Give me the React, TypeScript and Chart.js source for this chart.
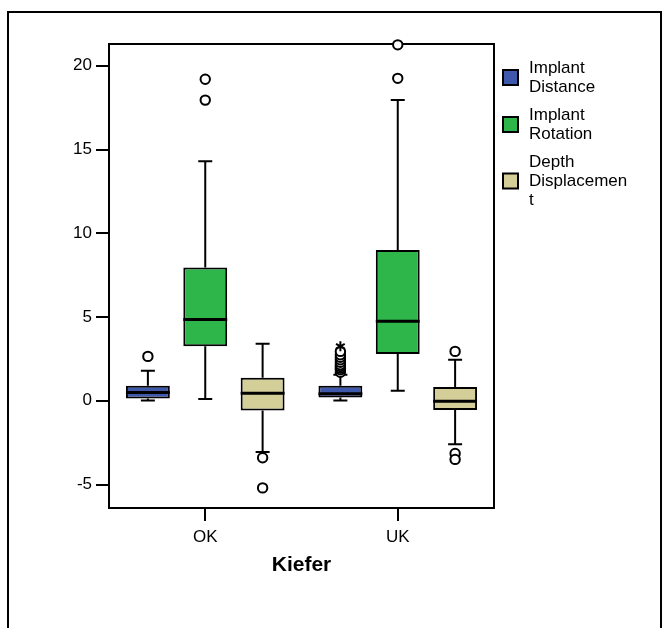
import React, { useEffect, useRef } from 'react';
import { Chart, registerables } from 'chart.js';

Chart.register(...registerables);

// ---------- data ----------
const categories = ['OK', 'UK'];
const seriesNames = ['Implant Distance', 'Implant Rotation', 'Depth Displacement'];
const legendLines = [['Implant', 'Distance'], ['Implant', 'Rotation'], ['Depth', 'Displacemen', 't']];
const seriesColors = ['#3E58AC', '#2EB64A', '#D4CF99'];
const yTickValues = [-5, 0, 5, 10, 15, 20];
const yMin = -6.4;
const yMax = 21.3;

const distanceMin = [0.02, 0.02];
const distanceQ1 = [0.13, 0.2];
const distanceMedian = [0.5, 0.42];
const distanceQ3 = [0.9, 0.9];
const distanceMax = [1.8, 1.55];
const distanceOutliers = [[2.65], [1.7, 1.85, 1.95, 2.05, 2.15, 2.3, 2.45, 2.6, 2.75, 2.95]];
const distanceExtremes = [[], [3.25]];

const rotationMin = [0.1, 0.6];
const rotationQ1 = [3.25, 2.8];
const rotationMedian = [4.85, 4.75];
const rotationQ3 = [7.95, 9.0];
const rotationMax = [14.3, 17.95];
const rotationOutliers = [[17.95, 19.2], [19.25, 21.25]];
const rotationExtremes = [[], []];

const depthMin = [-3.05, -2.6];
const depthQ1 = [-0.58, -0.55];
const depthMedian = [0.45, -0.03];
const depthQ3 = [1.38, 0.82];
const depthMax = [3.4, 2.45];
const depthOutliers = [[-3.4, -5.2], [2.95, -3.15, -3.5]];
const depthExtremes = [[], []];

const FONT = '"Liberation Sans", Arial, sans-serif';

type Stats = {
  min: number[]; q1: number[]; median: number[]; q3: number[]; max: number[];
  outliers: number[][]; extremes: number[][];
};

const stats: Stats[] = [
  { min: distanceMin, q1: distanceQ1, median: distanceMedian, q3: distanceQ3, max: distanceMax, outliers: distanceOutliers, extremes: distanceExtremes },
  { min: rotationMin, q1: rotationQ1, median: rotationMedian, q3: rotationQ3, max: rotationMax, outliers: rotationOutliers, extremes: rotationExtremes },
  { min: depthMin, q1: depthQ1, median: depthMedian, q3: depthQ3, max: depthMax, outliers: depthOutliers, extremes: depthExtremes },
];

const boxPlugin = {
  id: 'boxExtras',
  afterDatasetsDraw(chart: any) {
    const ctx = chart.ctx;
    const y = chart.scales.y;
    const area = chart.chartArea;
    ctx.save();
    // plot frame
    ctx.strokeStyle = '#000';
    ctx.lineWidth = 2;
    ctx.strokeRect(area.left, area.top, area.right - area.left, area.bottom - area.top);

    chart.data.datasets.forEach((_ds: any, di: number) => {
      const meta = chart.getDatasetMeta(di);
      const st = stats[di];
      meta.data.forEach((bar: any, i: number) => {
        const { x, width } = bar.getProps(['x', 'width'], true);
        const pMin = y.getPixelForValue(st.min[i]);
        const pQ1 = y.getPixelForValue(st.q1[i]);
        const pMed = y.getPixelForValue(st.median[i]);
        const pQ3 = y.getPixelForValue(st.q3[i]);
        const pMax = y.getPixelForValue(st.max[i]);
        const cap = 7;
        ctx.strokeStyle = '#000';
        ctx.lineWidth = 2;
        ctx.beginPath();
        ctx.moveTo(x, pQ3); ctx.lineTo(x, pMax);
        ctx.moveTo(x - cap, pMax); ctx.lineTo(x + cap, pMax);
        ctx.moveTo(x, pQ1); ctx.lineTo(x, pMin);
        ctx.moveTo(x - cap, pMin); ctx.lineTo(x + cap, pMin);
        ctx.stroke();
        // median
        ctx.lineWidth = 3;
        ctx.beginPath();
        ctx.moveTo(x - width / 2, pMed); ctx.lineTo(x + width / 2, pMed);
        ctx.stroke();
        // outliers
        ctx.lineWidth = 2;
        st.outliers[i].forEach((v) => {
          const py = y.getPixelForValue(v);
          ctx.beginPath();
          ctx.arc(x, py, 4.7, 0, Math.PI * 2);
          ctx.fillStyle = '#fff';
          ctx.fill();
          ctx.stroke();
        });
        // extremes (asterisk)
        st.extremes[i].forEach((v) => {
          const py = y.getPixelForValue(v);
          const r = 5;
          ctx.beginPath();
          for (let k = 0; k < 3; k++) {
            const a = (Math.PI / 3) * k + Math.PI / 2;
            ctx.moveTo(x + r * Math.cos(a), py + r * Math.sin(a));
            ctx.lineTo(x - r * Math.cos(a), py - r * Math.sin(a));
          }
          ctx.stroke();
        });
      });
    });
    ctx.restore();
  },
  afterDraw(chart: any) {
    const ctx = chart.ctx;
    ctx.save();
    ctx.font = `17px ${FONT}`;
    ctx.textBaseline = 'middle';
    ctx.textAlign = 'left';
    const boxX = 503;
    const boxSize = 15;
    const textX = 529;
    const lineH = 19;
    let yStart = 68;
    legendLines.forEach((lines, idx) => {
      const lastY = yStart + (lines.length - 1) * lineH;
      const cy = (yStart + lastY) / 2;
      ctx.fillStyle = seriesColors[idx];
      ctx.fillRect(boxX, cy - boxSize / 2, boxSize, boxSize);
      ctx.strokeStyle = '#000';
      ctx.lineWidth = 2;
      ctx.strokeRect(boxX, cy - boxSize / 2, boxSize, boxSize);
      ctx.fillStyle = '#000';
      lines.forEach((t, k) => ctx.fillText(t, textX, yStart + k * lineH));
      yStart = lastY + 28;
    });
    ctx.restore();
  },
};

export default function App() {
  const ref = useRef<HTMLCanvasElement | null>(null);
  useEffect(() => {
    if (!ref.current) return;
    const chart = new Chart(ref.current, {
      type: 'bar',
      data: {
        labels: categories,
        datasets: seriesNames.map((name, si) => ({
          label: name,
          data: categories.map((_c, i) => [stats[si].q1[i], stats[si].q3[i]]),
          backgroundColor: seriesColors[si],
          borderColor: '#000',
          borderWidth: 2,
          borderSkipped: false,
          categoryPercentage: 0.894,
          barPercentage: 0.765,
        })),
      } as any,
      options: {
        responsive: false,
        animation: false,
        layout: { padding: { left: 0, top: 44, right: 177, bottom: 0 } },
        plugins: { legend: { display: false }, tooltip: { enabled: false } },
        scales: {
          x: {
            type: 'category',
            offset: true,
            grid: { offset: false, drawOnChartArea: false, drawTicks: true, tickLength: 13, color: '#000', lineWidth: 2 },
            border: { display: false },
            ticks: { color: '#000', font: { family: FONT, size: 17 }, padding: 6 },
            title: { display: true, text: 'Kiefer', color: '#000', font: { family: FONT, size: 21, weight: 'bold' }, padding: { top: 0, bottom: 50 } },
            afterFit: (s: any) => { s.height = 120; },
          },
          y: {
            min: yMin,
            max: yMax,
            afterBuildTicks: (s: any) => { s.ticks = yTickValues.map((v) => ({ value: v })); },
            grid: { drawOnChartArea: false, drawTicks: true, tickLength: 13, color: '#000', lineWidth: 2 },
            border: { display: false },
            ticks: { color: '#000', font: { family: FONT, size: 17 }, padding: 4 },
            afterFit: (s: any) => { s.width = 109; },
          },
        },
      } as any,
      plugins: [boxPlugin],
    });
    return () => chart.destroy();
  }, []);

  return (
    <div style={{ position: 'absolute', left: 0, top: 0, width: 671, height: 628, overflow: 'hidden', background: '#fff' }}>
      <div style={{ position: 'absolute', left: 7, top: 11, width: 655, height: 700, border: '2px solid #000', boxSizing: 'border-box' }} />
      <canvas ref={ref} width={671} height={628} style={{ position: 'absolute', left: 0, top: 0, width: 671, height: 628 }} />
    </div>
  );
}
